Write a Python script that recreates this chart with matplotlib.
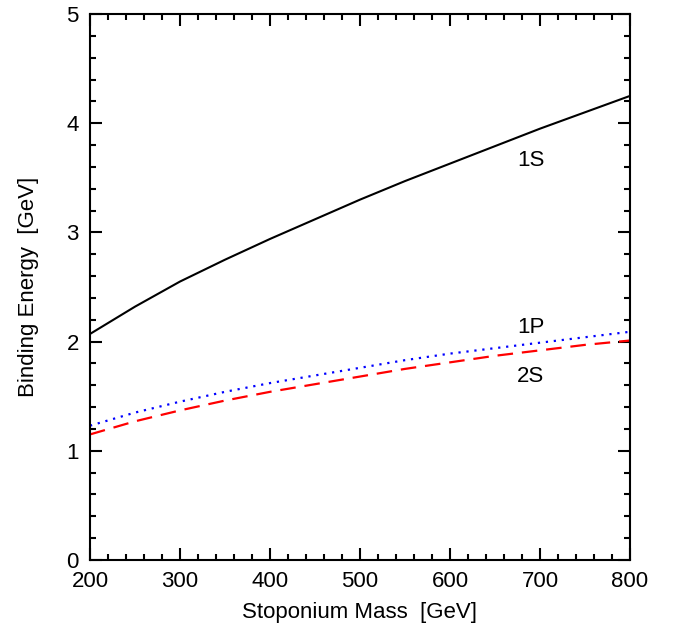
import matplotlib
matplotlib.use("Agg")
import matplotlib.pyplot as plt
from matplotlib.ticker import MultipleLocator

plt.rcParams['font.family'] = ['Liberation Sans', 'DejaVu Sans']

mass = [200, 250, 300, 350, 400, 450, 500, 550, 600, 650, 700, 750, 800]
e_1s = [2.07, 2.32, 2.55, 2.75, 2.94, 3.12, 3.30, 3.47, 3.63, 3.79, 3.95, 4.10, 4.25]
e_1p = [1.23, 1.35, 1.45, 1.54, 1.62, 1.69, 1.76, 1.83, 1.89, 1.94, 1.99, 2.04, 2.09]
e_2s = [1.15, 1.27, 1.37, 1.46, 1.54, 1.61, 1.68, 1.75, 1.81, 1.87, 1.92, 1.97, 2.01]

labels = ["1S", "1P", "2S"]
label_x = [690, 690, 690]
label_y = [3.66, 2.13, 1.68]

fig = plt.figure(figsize=(6.75, 6.28), dpi=100)
ax = fig.add_axes([90/675, 68/628, 540/675, 546/628])

ax.plot(mass, e_1s, color='black', lw=1.5)
ax.plot(mass, e_1p, color='blue', lw=1.6, linestyle=(0, (1, 2.6)))
ax.plot(mass, e_2s, color='red', lw=1.6, linestyle=(0, (7, 4)))

for t, x, y in zip(labels, label_x, label_y):
    ax.text(x, y, t, fontsize=16, ha='center', va='center')

ax.set_xlim(200, 800)
ax.set_ylim(0, 5)
ax.xaxis.set_major_locator(MultipleLocator(100))
ax.xaxis.set_minor_locator(MultipleLocator(20))
ax.yaxis.set_major_locator(MultipleLocator(1))
ax.yaxis.set_minor_locator(MultipleLocator(0.2))
ax.tick_params(which='both', direction='in', top=True, right=True, width=1.5, labelsize=16)
ax.tick_params(which='major', length=8.6, pad=8)
ax.tick_params(which='minor', length=4.3)
for s in ax.spines.values():
    s.set_linewidth(1.5)

ax.set_xlabel("Stoponium Mass  [GeV]", fontsize=16, labelpad=7)
ax.set_ylabel("Binding Energy  [GeV]", fontsize=16, labelpad=20)

fig.savefig("out.png", dpi=100)
